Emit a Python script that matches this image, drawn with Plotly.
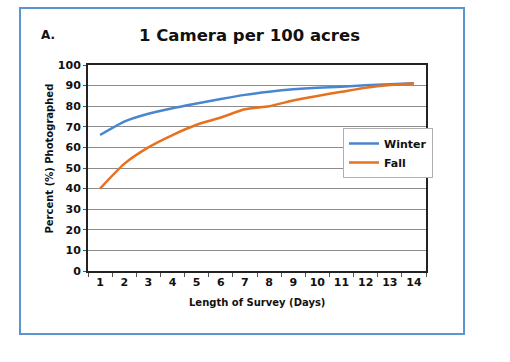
import plotly.graph_objects as go

days = [str(d) for d in range(1, 15)]
winter = [66, 72.5, 76.3, 79, 81.3, 83.5, 85.5, 87, 88.2, 89, 89.5, 90.2, 90.7, 91.2]
fall = [40, 52, 60, 66, 71, 74.5, 78.5, 80, 82.8, 85, 87, 89, 90.3, 91]
y_ticks = list(range(0, 101, 10))

FONT = "DejaVu Sans"
W, H = 510, 362
L, R, T, B = 88, 426, 65, 271

def px(x):
    return (x - L) / (R - L)

def py(y):
    return (B - y) / (B - T)

fig = go.Figure()
fig.add_trace(go.Scatter(x=days, y=winter, name="Winter", mode="lines",
                         line=dict(color="#4A86CF", width=2.5, shape="spline", smoothing=0.6)))
fig.add_trace(go.Scatter(x=days, y=fall, name="Fall", mode="lines",
                         line=dict(color="#E8711F", width=2.5, shape="spline", smoothing=0.6)))

tick_font = dict(size=11, family=FONT, color="#111111", weight="bold")

fig.update_layout(
    width=W, height=H,
    margin=dict(l=L, r=W - R, t=T, b=H - B),
    paper_bgcolor="white", plot_bgcolor="white",
    font=dict(family=FONT, color="#111111"),
    title=dict(text="1 Camera per 100 acres", x=249.5 / W, xanchor="center",
               y=1 - 35 / H, yanchor="middle",
               font=dict(size=16.5, family=FONT, color="#111111", weight="bold")),
    showlegend=True,
    legend=dict(x=px(343), y=py(128), xanchor="left", yanchor="top",
                bgcolor="white", bordercolor="#b0b0b0", borderwidth=1,
                font=dict(size=11, family=FONT, color="#111111", weight="bold"),
                itemwidth=30, tracegroupgap=0),
    xaxis=dict(type="category", range=[-0.5, 13.5], showline=True, linecolor="#222222",
               linewidth=2, mirror=True, ticks="outside", tickson="boundaries",
               ticklen=4, tickcolor="#555555", showgrid=False, tickangle=0,
               tickfont=tick_font),
    yaxis=dict(range=[0, 100], tickvals=y_ticks, showline=True, linecolor="#222222",
               linewidth=2, mirror=True, ticks="outside", ticklen=3, tickcolor="#555555",
               showgrid=True, gridcolor="#8c8c8c", gridwidth=1, zeroline=False,
               tickfont=tick_font),
)

fig.add_annotation(text="Percent (%) Photographed", textangle=-90,
                   x=px(41), y=py(159), xref="paper", yref="paper",
                   showarrow=False, font=dict(size=10, family=FONT, color="#111111", weight="bold"))
fig.add_annotation(text="Length of Survey (Days)",
                   x=px(257), y=py(310), xref="paper", yref="paper",
                   showarrow=False, font=dict(size=10, family=FONT, color="#111111", weight="bold"))
fig.add_annotation(text="A.", x=px(38.5), y=py(26), xref="paper", yref="paper",
                   showarrow=False, font=dict(size=12, family=FONT, color="#111111", weight="bold"))

fig.add_shape(type="rect", xref="paper", yref="paper",
              x0=px(20), x1=px(464), y0=py(334), y1=py(8),
              line=dict(color="#5B93D3", width=2), layer="below")

fig.write_html("out.html")
